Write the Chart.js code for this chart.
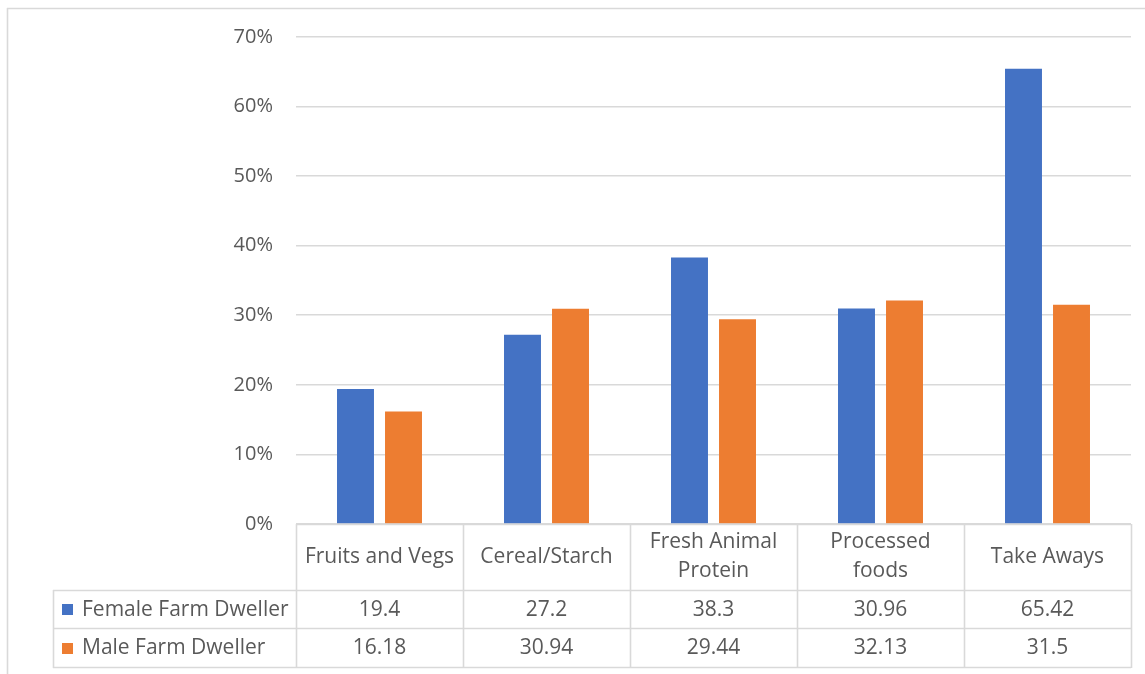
<!DOCTYPE html>
<html>
<head>
<meta charset="utf-8">
<script src="https://cdn.jsdelivr.net/npm/chart.js@4/dist/chart.umd.min.js"></script>
<style>
  html, body { margin: 0; padding: 0; background: #fff; }
  canvas { display: block; }
</style>
</head>
<body>
<canvas id="chart" width="1145" height="674"></canvas>
<script>
  const categories = ["Fruits and Vegs", "Cereal/Starch", ["Fresh Animal", "Protein"], ["Processed", "foods"], "Take Aways"];
  const seriesNames = ["Female Farm Dweller", "Male Farm Dweller"];
  const female = [19.4, 27.2, 38.3, 30.96, 65.42];
  const male = [16.18, 30.94, 29.44, 32.13, 31.5];
  const yTicks = [0, 10, 20, 30, 40, 50, 60, 70];

  const BLUE = "#4472C4";
  const ORANGE = "#ED7D31";
  const TEXT = "#595959";
  const LINE = "#d9d9d9";
  const FONT = "'Open Sans', sans-serif";

  // draws the Excel-style data table under the plot, using the x scale
  const dataTable = {
    id: "dataTable",
    afterDraw(chart) {
      const ctx = chart.ctx;
      const xs = chart.scales.x;
      const area = chart.chartArea;
      const n = categories.length;
      const colW = (area.right - area.left) / n;
      const top = area.bottom;
      const r1 = top + 66, r2 = r1 + 38, bottom = r2 + 39;
      const legLeft = 53;

      ctx.save();
      ctx.strokeStyle = LINE;
      ctx.lineWidth = 1.6;
      const hline = (x1, x2, y) => { ctx.beginPath(); ctx.moveTo(x1, y + 0.5); ctx.lineTo(x2, y + 0.5); ctx.stroke(); };
      const vline = (x, y1, y2) => { ctx.beginPath(); ctx.moveTo(x + 0.5, y1); ctx.lineTo(x + 0.5, y2); ctx.stroke(); };

      hline(area.left, area.right, top);
      hline(legLeft, area.right, r1);
      hline(legLeft, area.right, r2);
      hline(legLeft, area.right, bottom);
      vline(legLeft, r1, bottom + 1);
      for (let i = 0; i <= n; i++) {
        vline(Math.round(area.left + i * colW), top, bottom + 1);
      }

      ctx.fillStyle = TEXT;
      ctx.font = "21px " + FONT;
      ctx.textAlign = "center";
      ctx.textBaseline = "middle";
      categories.forEach((c, i) => {
        const cx = xs.getPixelForValue(i);
        const lines = Array.isArray(c) ? c : [c];
        const lh = 29;
        const y0 = (top + r1) / 2 - (lines.length - 1) * lh / 2;
        lines.forEach((t, j) => ctx.fillText(t, cx, y0 + j * lh));
        ctx.fillText(String(female[i]), cx, (r1 + r2) / 2 + 1);
        ctx.fillText(String(male[i]), cx, (r2 + bottom) / 2 + 1);
      });

      ctx.textAlign = "left";
      [[BLUE, (r1 + r2) / 2], [ORANGE, (r2 + bottom) / 2]].forEach(([col, y], k) => {
        ctx.fillStyle = col;
        ctx.fillRect(62, Math.round(y) - 5, 11, 11);
        ctx.fillStyle = TEXT;
        ctx.fillText(seriesNames[k], 82, y + 1);
      });

      // outer chart frame
      vline(7, 8, 674);
      hline(7, 1145, 8);
      ctx.restore();
    }
  };

  const whiteBg = {
    id: "whiteBg",
    beforeDraw(chart) {
      const ctx = chart.ctx;
      ctx.save();
      ctx.fillStyle = "#fff";
      ctx.fillRect(0, 0, chart.width, chart.height);
      ctx.restore();
    }
  };

  new Chart(document.getElementById("chart"), {
    type: "bar",
    data: {
      labels: categories,
      datasets: [
        { label: seriesNames[0], data: female, backgroundColor: BLUE },
        { label: seriesNames[1], data: male, backgroundColor: ORANGE }
      ]
    },
    options: {
      responsive: false,
      animation: false,
      datasets: { bar: { categoryPercentage: 0.575, barPercentage: 0.77 } },
      layout: { padding: { left: 0, right: 14, top: 37, bottom: 150 } },
      plugins: { legend: { display: false }, tooltip: { enabled: false } },
      scales: {
        x: { display: false },
        y: {
          min: 0,
          max: 70,
          afterBuildTicks: (s) => { s.ticks = yTicks.map((v) => ({ value: v })); },
          afterFit: (s) => { s.width = 296; },
          border: { display: false },
          grid: { color: LINE, lineWidth: 1.6, drawTicks: false },
          ticks: {
            color: TEXT,
            padding: 23,
            font: { family: FONT, size: 20 },
            callback: (v) => v + "%"
          }
        }
      }
    },
    plugins: [whiteBg, dataTable]
  });
</script>
</body>
</html>
